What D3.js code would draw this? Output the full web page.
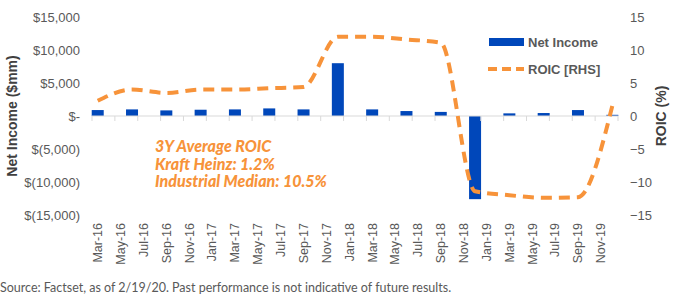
<!DOCTYPE html>
<html>
<head>
<meta charset="utf-8">
<script src="https://cdn.jsdelivr.net/npm/d3@7"></script>
<style>
  body { margin: 0; background: #fff; }
  text { font-family: "Liberation Sans", Arial, sans-serif; }
</style>
</head>
<body>
<div id="chart"></div>
<script>
// quarterly data, Kraft Heinz
var quarters = ["Mar-16", "Jun-16", "Sep-16", "Dec-16", "Mar-17", "Jun-17", "Sep-17", "Dec-17",
  "Mar-18", "Jun-18", "Sep-18", "Dec-18", "Mar-19", "Jun-19", "Sep-19", "Dec-19"];
var netIncome = [900, 1000, 850, 950, 1000, 1150, 1000, 8000, 1000, 750, 620, -12600, 400, 450, 900, 180];
var roic = [2.3, 4.0, 3.5, 4.0, 4.0, 4.2, 4.4, 12.0, 12.0, 11.6, 11.1, -11.4, -12.0, -12.4, -12.3, 1.5];
var xTickLabels = ["Mar-16", "May-16", "Jul-16", "Sep-16", "Nov-16", "Jan-17", "Mar-17", "May-17",
  "Jul-17", "Sep-17", "Nov-17", "Jan-18", "Mar-18", "May-18", "Jul-18", "Sep-18", "Nov-18",
  "Jan-19", "Mar-19", "May-19", "Jul-19", "Sep-19", "Nov-19"];
var leftTicks = [15000, 10000, 5000, 0, -5000, -10000, -15000];
var rightTicks = [15, 10, 5, 0, -5, -10, -15];

var width = 678;
var height = 304;
var margin = { top: 17, left: 92, right: 60, bottom: 89 };

var blue = "#0047BA";
var orange = "#F7933A";
var gray = "#595959";

var svg = d3.select('#chart')
  .append('svg')
  .attr('width', width)
  .attr('height', height);

// monthly date axis, like the excel one
var fmt = d3.timeFormat('%b-%y');
var months = d3.timeMonth.range(new Date(2016, 2, 1), new Date(2020, 0, 1)).map(fmt);

var x = d3.scaleBand()
  .domain(months)
  .range([margin.left, width - margin.right]);

var yL = d3.scaleLinear()
  .domain([-15000, 15000])
  .range([height - margin.bottom, margin.top]);

var yR = d3.scaleLinear()
  .domain([-15, 15])
  .range([height - margin.bottom, margin.top]);

function money(d) {
  if (d === 0) return '$-';
  var s = d3.format(',')(Math.abs(d));
  return d < 0 ? '$(' + s + ')' : '$' + s;
}

// left axis
var gL = svg.append('g')
  .attr('transform', 'translate(' + margin.left + ',0)')
  .call(d3.axisLeft(yL).tickValues(leftTicks).tickFormat(money).tickSize(0).tickPadding(12));
gL.select('.domain').remove();
gL.selectAll('text').attr('fill', gray).style('font-size', '13px');

// right axis
var gR = svg.append('g')
  .attr('transform', 'translate(' + (width - margin.right) + ',0)')
  .call(d3.axisRight(yR).tickValues(rightTicks).tickSize(0).tickPadding(12));
gR.select('.domain').remove();
gR.selectAll('text').attr('fill', gray).style('font-size', '13px');

// bars
var bw = 12;
svg.selectAll('.bar')
  .data(netIncome)
  .enter()
  .append('rect')
  .attr('class', 'bar')
  .attr('x', function(d, i) { return x(quarters[i]) + x.bandwidth() / 2 - bw / 2; })
  .attr('width', bw)
  .attr('y', function(d) { return yL(Math.max(0, d)); })
  .attr('height', function(d) { return Math.abs(yL(d) - yL(0)); })
  .attr('fill', blue);

// zero line with tick marks
svg.append('line')
  .attr('x1', x.range()[0]).attr('x2', x.range()[1])
  .attr('y1', yL(0)).attr('y2', yL(0))
  .attr('stroke', '#d9d9d9').attr('stroke-width', 1);

var tickXs = xTickLabels.map(function(d) { return x(d); }).concat([x.range()[1]]);
svg.selectAll('.xtick')
  .data(tickXs)
  .enter()
  .append('line')
  .attr('class', 'xtick')
  .attr('x1', function(d) { return d; }).attr('x2', function(d) { return d; })
  .attr('y1', yL(0)).attr('y2', yL(0) + 5)
  .attr('stroke', '#d9d9d9');

// x labels, below plot
var gX = svg.append('g')
  .attr('transform', 'translate(0,' + (height - margin.bottom) + ')')
  .call(d3.axisBottom(x).tickValues(xTickLabels).tickSize(0));
gX.select('.domain').remove();
gX.selectAll('text')
  .attr('transform', 'rotate(-90)')
  .attr('x', -8)
  .attr('y', 0)
  .attr('dy', '0.35em')
  .style('text-anchor', 'end')
  .style('font-size', '12.5px')
  .attr('fill', gray);

// roic line
var line = d3.line()
  .curve(d3.curveMonotoneX)
  .x(function(d, i) { return x(quarters[i]) + x.bandwidth() / 2; })
  .y(function(d) { return yR(d); });

svg.append('path')
  .datum(roic)
  .attr('fill', 'none')
  .attr('stroke', orange)
  .attr('stroke-width', 4)
  .attr('stroke-dasharray', '11,7')
  .attr('d', line);

// legend
svg.append('rect')
  .attr('x', 489).attr('y', 38)
  .attr('width', 35).attr('height', 8)
  .attr('fill', blue);
svg.append('text')
  .attr('x', 528).attr('y', 47)
  .attr('fill', gray)
  .style('font-size', '13px').style('font-weight', 'bold')
  .text('Net Income');
svg.append('line')
  .attr('x1', 488).attr('x2', 524)
  .attr('y1', 69).attr('y2', 69)
  .attr('stroke', orange).attr('stroke-width', 4)
  .attr('stroke-dasharray', '9,5');
svg.append('text')
  .attr('x', 528).attr('y', 74)
  .attr('fill', gray)
  .style('font-size', '13px').style('font-weight', 'bold')
  .text('ROIC [RHS]');

// axis titles
svg.append('text')
  .attr('transform', 'translate(17,' + yL(0) + ') rotate(-90)')
  .attr('text-anchor', 'middle')
  .attr('fill', '#404040')
  .style('font-size', '14px').style('font-weight', 'bold')
  .text('Net Income ($mm)');

svg.append('text')
  .attr('transform', 'translate(666,' + yL(0) + ') rotate(-90)')
  .attr('text-anchor', 'middle')
  .attr('fill', '#404040')
  .style('font-size', '14px').style('font-weight', 'bold')
  .text('ROIC (%)');

// annotation
var notes = ['3Y Average ROIC', 'Kraft Heinz: 1.2%', 'Industrial Median: 10.5%'];
svg.selectAll('.note')
  .data(notes)
  .enter()
  .append('text')
  .attr('class', 'note')
  .attr('x', 155)
  .attr('y', function(d, i) { return 152 + i * 17.5; })
  .attr('fill', orange)
  .style('font-family', 'Lato, sans-serif')
  .style('font-size', '16px')
  .style('font-weight', '900')
  .style('font-style', 'italic')
  .text(function(d) { return d; });

// source
svg.append('text')
  .attr('x', 0).attr('y', 292)
  .attr('fill', gray)
  .style('font-family', 'Lato, sans-serif')
  .style('font-size', '12.5px')
  .text('Source: Factset, as of 2/19/20. Past performance is not indicative of future results.');
</script>
</body>
</html>
